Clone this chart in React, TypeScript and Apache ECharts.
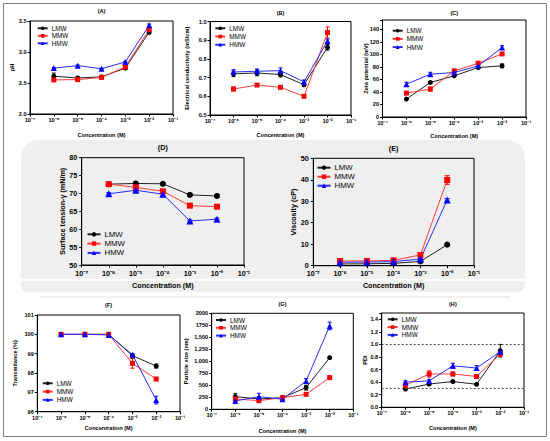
import React, { useEffect, useRef } from "react";
import * as echarts from "echarts";

// ---------- DATA ----------
const concentrations = [1e-6, 1e-5, 1e-4, 1e-3, 1e-2];
const seriesNames = ["LMW", "MMW", "HMW"];

// (A) pH
const phLMW = [2.61, 2.58, 2.6, 2.74, 3.32];
const phMMW = [2.55, 2.555, 2.59, 2.76, 3.36];
const phHMW = [2.74, 2.78, 2.73, 2.84, 3.43];
const phErrLMW = [0.05, 0.02, 0.015, 0.02, 0.03];
const phErrMMW = [0.02, 0.02, 0.015, 0.03, 0.03];
const phErrHMW = [0.01, 0.01, 0.01, 0.01, 0.02];

// (B) Electrical conductivity
const ecLMW = [0.72, 0.725, 0.716, 0.662, 0.862];
const ecMMW = [0.639, 0.66, 0.648, 0.6, 0.941];
const ecHMW = [0.73, 0.734, 0.737, 0.677, 0.896];
const ecErrLMW = [0.015, 0.015, 0.012, 0.01, 0.015];
const ecErrMMW = [0.01, 0.005, 0.005, 0.005, 0.03];
const ecErrHMW = [0.012, 0.012, 0.015, 0.01, 0.01];

// (C) Zeta potential
const zpLMW = [28.6, 55.2, 65.8, 79, 81.7];
const zpMMW = [38.2, 44.6, 73.7, 85.9, 100.8];
const zpHMW = [52.5, 68.4, 71.1, 81.7, 110.9];
const zpErrLMW = [1, 1, 1, 1, 3];
const zpErrMMW = [2, 3, 2, 2, 2];
const zpErrHMW = [3, 3, 2, 2, 3];

// (D) Surface tension
const stLMW = [72.6, 72.8, 72.7, 69.6, 69.3];
const stMMW = [72.6, 71.7, 70.6, 66.6, 66.3];
const stHMW = [69.9, 70.9, 69.8, 62.3, 62.8];
const stErrLMW = [0.3, 0.3, 0.3, 0.3, 0.3];
const stErrMMW = [0.3, 0.3, 0.3, 0.3, 0.3];
const stErrHMW = [0.3, 0.3, 0.3, 0.3, 0.3];

// (E) Viscosity
const viLMW = [0.8, 0.9, 1.1, 2.0, 9.8];
const viMMW = [2.2, 2.2, 2.5, 5.0, 39.9];
const viHMW = [1.6, 1.7, 1.9, 3.1, 30.6];
const viErrLMW = [0.2, 0.2, 0.2, 0.3, 0.4];
const viErrMMW = [0.3, 0.3, 0.3, 0.4, 2.0];
const viErrHMW = [0.2, 0.2, 0.2, 0.3, 0.6];

// (F) Transmittance
const trLMW = [100, 100, 100, 98.9, 98.36];
const trMMW = [100, 100, 100, 98.5, 97.69];
const trHMW = [100, 100, 99.97, 98.95, 96.6];
const trErrLMW = [0.02, 0.02, 0.02, 0.08, 0.1];
const trErrMMW = [0.02, 0.02, 0.02, 0.25, 0.08];
const trErrHMW = [0.02, 0.02, 0.04, 0.05, 0.2];

// (G) Particle size
const psLMW = [264, 215, 243, 451, 1076];
const psMMW = [215, 180, 243, 312, 660];
const psHMW = [174, 264, 208, 590, 1736];
const psErrLMW = [60, 30, 20, 50, 20];
const psErrMMW = [40, 30, 20, 20, 40];
const psErrHMW = [40, 70, 20, 50, 80];

// (H) PDI
const pdiLMW = [0.29, 0.37, 0.41, 0.366, 0.9];
const pdiMMW = [0.35, 0.53, 0.53, 0.49, 0.85];
const pdiHMW = [0.4, 0.42, 0.66, 0.625, 0.885];
const pdiErrLMW = [0.01, 0.02, 0.01, 0.01, 0.1];
const pdiErrMMW = [0.04, 0.05, 0.03, 0.02, 0.03];
const pdiErrHMW = [0.02, 0.02, 0.04, 0.04, 0.02];
const pdiRefLines = [1.0, 0.3];

const psTickLabels: Record<number, string> = {
  0: "0", 250: "250", 500: "500", 750: "750", 1000: "1,000",
  1250: "1,250", 1500: "1,500", 1750: "1750", 2000: "2000",
};

// ---------- STYLE ----------
const FONT = "Liberation Sans, Arial, Helvetica, sans-serif";
const COLORS = ["#000000", "#ff0000", "#0000ff"];
const LINECOLORS = ["#222222", "#ff3a3a", "#2a2aff"];
const SYMBOLS = ["circle", "rect", "triangle"];

const SUP: Record<string, string> = {
  "-": "\u207B", "0": "\u2070", "1": "\u00B9", "2": "\u00B2", "3": "\u00B3",
  "4": "\u2074", "5": "\u2075", "6": "\u2076", "7": "\u2077", "8": "\u2078", "9": "\u2079",
};
const pow10Label = (v: number) =>
  "10" + String(Math.round(v)).split("").map((c) => SUP[c] || c).join("");

type Panel = {
  title: string;
  yTitle: string;
  grid: [number, number, number, number];
  yMin: number;
  yMax: number;
  interval: number;
  fmt: (v: number) => string;
  vals: number[][];
  errs: number[][];
  big: boolean;
  legend: [number, number, number];
  yTitleX: number;
  xTitleY: number;
  titleY: number;
};

const panels: Panel[] = [
  {
    title: "(A)", yTitle: "pH", grid: [30, 21, 143, 93], yMin: 2.0, yMax: 3.5, interval: 0.5,
    fmt: (v) => v.toFixed(1), vals: [phLMW, phMMW, phHMW], errs: [phErrLMW, phErrMMW, phErrHMW],
    big: false, legend: [41.7, 28.3, 7.5], yTitleX: 12, xTitleY: 135, titleY: 11,
  },
  {
    title: "(B)", yTitle: "Electrical conductivity (mS/cm)", grid: [210, 21.5, 141, 93.5], yMin: 0.5, yMax: 1.0,
    interval: 0.1, fmt: (v) => v.toFixed(1), vals: [ecLMW, ecMMW, ecHMW], errs: [ecErrLMW, ecErrMMW, ecErrHMW],
    big: false, legend: [219.3, 28.3, 8.2], yTitleX: 187, xTitleY: 135, titleY: 12.5,
  },
  {
    title: "(C)", yTitle: "Zeta potential (mV)", grid: [382.5, 20, 143.5, 97], yMin: 0, yMax: 155,
    interval: 20, fmt: (v) => (Math.round(v) % 20 === 0 ? String(Math.round(v)) : ""),
    vals: [zpLMW, zpMMW, zpHMW], errs: [zpErrLMW, zpErrMMW, zpErrHMW],
    big: false, legend: [396.7, 30.7, 8.2], yTitleX: 366, xTitleY: 136, titleY: 13,
  },
  {
    title: "(D)", yTitle: "Surface tension-\u03B3 (mN/m)", grid: [81.7, 157.7, 162.3, 107.3], yMin: 50, yMax: 80,
    interval: 5, fmt: (v) => String(Math.round(v)), vals: [stLMW, stMMW, stHMW], errs: [stErrLMW, stErrMMW, stErrHMW],
    big: true, legend: [93, 234.3, 9.3], yTitleX: 62, xTitleY: 285, titleY: 147,
  },
  {
    title: "(E)", yTitle: "Viscosity (cP)", grid: [313.3, 158.3, 160.7, 107.4], yMin: 0, yMax: 50,
    interval: 10, fmt: (v) => String(Math.round(v)), vals: [viLMW, viMMW, viHMW], errs: [viErrLMW, viErrMMW, viErrHMW],
    big: true, legend: [323, 167.7, 9], yTitleX: 293, xTitleY: 285.5, titleY: 148,
  },
  {
    title: "(F)", yTitle: "Transmitance (%)", grid: [37.3, 315, 142.7, 96.7], yMin: 96, yMax: 101,
    interval: 1, fmt: (v) => String(Math.round(v)), vals: [trLMW, trMMW, trHMW], errs: [trErrLMW, trErrMMW, trErrHMW],
    big: false, legend: [46.7, 383.3, 8.3], yTitleX: 15, xTitleY: 428.3, titleY: 305,
  },
  {
    title: "(G)", yTitle: "Particle size (nm)", grid: [211.7, 313.3, 141.6, 96], yMin: 0, yMax: 2000,
    interval: 250, fmt: (v) => psTickLabels[Math.round(v)] ?? String(v),
    vals: [psLMW, psMMW, psHMW], errs: [psErrLMW, psErrMMW, psErrHMW],
    big: false, legend: [220, 320, 7.8], yTitleX: 186, xTitleY: 431, titleY: 304,
  },
  {
    title: "(H)", yTitle: "PDI", grid: [381.7, 313, 142.3, 94.3], yMin: 0, yMax: 1.5, interval: 0.2,
    fmt: (v) => (v > 1.45 ? "" : v.toFixed(1)), vals: [pdiLMW, pdiMMW, pdiHMW], errs: [pdiErrLMW, pdiErrMMW, pdiErrHMW],
    big: false, legend: [391.7, 319.3, 7.8], yTitleX: 365, xTitleY: 427.7, titleY: 304,
  },
];

function buildOption() {
  const grid: any[] = [];
  const xAxis: any[] = [];
  const yAxis: any[] = [];
  const series: any[] = [];
  const legend: any[] = [];
  const graphic: any[] = [];

  // background / frame
  graphic.push({
    type: "rect", z: -10, silent: true,
    shape: { x: 21, y: 140, width: 504, height: 152, r: [18, 18, 7, 7] },
    style: { fill: "#efefef" },
  });
  graphic.push({
    type: "rect", z: -9, silent: true,
    shape: { x: 21, y: 278.8, width: 504, height: 2.2 },
    style: { fill: "#ffffff" },
  });
  graphic.push({
    type: "line", z: -9, silent: true,
    shape: { x1: 40, y1: 297, x2: 510, y2: 297 },
    style: { stroke: "#e2e2e2", lineWidth: 1 },
  });
  graphic.push({
    type: "rect", z: -8, silent: true,
    shape: { x: 3.5, y: 3.5, width: 543, height: 433 },
    style: { fill: "none", stroke: "#808080", lineWidth: 1 },
  });

  panels.forEach((p, i) => {
    const [gl, gt, gw, gh] = p.grid;
    const tickFs = p.big ? 7.2 : 5.6;
    const titleFs = p.big ? 7.2 : 5.6;
    const legFs = p.big ? 7.8 : 6.4;
    const symSize = p.big ? 6 : 5;

    grid.push({
      left: gl, top: gt, width: gw, height: gh, show: true,
      borderColor: "#000", borderWidth: 1, backgroundColor: "transparent", containLabel: false,
    });
    xAxis.push({
      type: "value", gridIndex: i, min: -7, max: -1, interval: 1,
      axisLine: { show: true, onZero: false, lineStyle: { color: "#000", width: 1 } },
      axisTick: { show: true, length: 2.5, lineStyle: { color: "#000", width: 1 } },
      axisLabel: {
        fontSize: tickFs, fontWeight: "bold", color: "#000", margin: p.big ? 4.5 : 3, fontFamily: FONT,
        formatter: (v: number) => pow10Label(v),
      },
      splitLine: { show: false },
    });
    yAxis.push({
      type: "value", gridIndex: i, min: p.yMin, max: p.yMax, interval: p.interval,
      axisLine: { show: true, onZero: false, lineStyle: { color: "#000", width: 1 } },
      axisTick: { show: true, length: 2.5, lineStyle: { color: "#000", width: 1 } },
      axisLabel: {
        fontSize: tickFs, fontWeight: "bold", color: "#000", margin: p.big ? 4.5 : 3.5, fontFamily: FONT,
        formatter: (v: number) => p.fmt(v),
      },
      splitLine: { show: false },
    });

    seriesNames.forEach((name, k) => {
      const data = concentrations.map((c, j) => [Math.log10(c), p.vals[k][j]]);
      const s: any = {
        type: "line", name, xAxisIndex: i, yAxisIndex: i, data,
        symbol: SYMBOLS[k], symbolSize: k === 2 ? symSize + 1 : symSize,
        itemStyle: { color: COLORS[k] },
        lineStyle: { color: LINECOLORS[k], width: 1 },
        z: 3, animation: false,
      };
      if (i === 7 && k === 0) {
        s.markLine = {
          silent: true, symbol: "none", animation: false,
          label: { show: false },
          lineStyle: { color: "#555", type: [2, 2], width: 1 },
          data: pdiRefLines.map((y) => ({ yAxis: y })),
        };
      }
      series.push(s);

      const color = COLORS[k];
      const errData = concentrations.map((c, j) => [
        Math.log10(c), p.vals[k][j] - p.errs[k][j], p.vals[k][j] + p.errs[k][j],
      ]);
      series.push({
        type: "custom", name: name + " err", xAxisIndex: i, yAxisIndex: i, data: errData,
        encode: { x: 0, y: [1, 2] }, z: 2, silent: true,
        renderItem: (params: any, api: any) => {
          const x = api.value(0);
          const lo = api.coord([x, api.value(1)]);
          const hi = api.coord([x, api.value(2)]);
          const w = p.big ? 2.5 : 2;
          return {
            type: "group",
            children: [
              { type: "line", shape: { x1: lo[0], y1: lo[1], x2: hi[0], y2: hi[1] }, style: { stroke: color, lineWidth: 1 } },
              { type: "line", shape: { x1: lo[0] - w, y1: lo[1], x2: lo[0] + w, y2: lo[1] }, style: { stroke: color, lineWidth: 1 } },
              { type: "line", shape: { x1: hi[0] - w, y1: hi[1], x2: hi[0] + w, y2: hi[1] }, style: { stroke: color, lineWidth: 1 } },
            ],
          };
        },
      });
    });

    const [lx, ly, step] = p.legend;
    const iw = p.big ? 13 : 10;
    legend.push({
      orient: "vertical", left: lx - iw / 2, top: ly - step / 2, padding: 0, itemGap: 0,
      itemWidth: iw, itemHeight: p.big ? 5.5 : 4.5, data: seriesNames, selectedMode: false,
      textStyle: { fontSize: legFs, fontFamily: FONT, color: "#000", lineHeight: step, padding: [0, 0, 0, -1] },
    });

    // titles
    graphic.push({
      type: "text", x: gl + gw / 2, y: p.titleY,
      style: { text: p.title, font: `bold ${titleFs}px ${FONT}`, fill: "#000", align: "center", verticalAlign: "middle" },
    });
    graphic.push({
      type: "text", x: gl + gw / 2, y: p.xTitleY,
      style: { text: "Concentration (M)", font: `bold ${titleFs}px ${FONT}`, fill: "#000", align: "center", verticalAlign: "middle" },
    });
    graphic.push({
      type: "text", x: p.yTitleX, y: gt + gh / 2, rotation: Math.PI / 2,
      style: { text: p.yTitle, font: `bold ${titleFs}px ${FONT}`, fill: "#000", align: "center", verticalAlign: "middle" },
    });
  });

  return {
    animation: false,
    backgroundColor: "#ffffff",
    textStyle: { fontFamily: FONT },
    grid, xAxis, yAxis, series, legend, graphic,
  };
}

export default function App() {
  const ref = useRef<HTMLDivElement>(null);
  useEffect(() => {
    if (!ref.current) return;
    const chart = echarts.init(ref.current, undefined, { renderer: "svg" });
    chart.setOption(buildOption() as any);
    return () => chart.dispose();
  }, []);
  return (
    <div
      ref={ref}
      style={{ position: "fixed", left: 0, top: 0, width: 550, height: 441, background: "#fff" }}
    />
  );
}
